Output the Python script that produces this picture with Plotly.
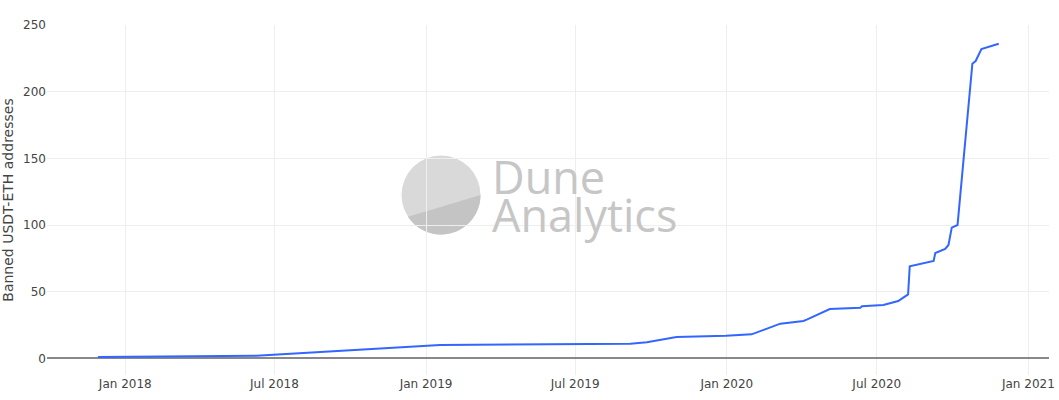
import numpy as np
import plotly.graph_objects as go

dates = ["2017-11-29", "2018-06-09", "2019-01-18", "2019-09-06", "2019-09-26",
         "2019-11-01", "2019-12-31", "2020-01-31", "2020-03-06", "2020-04-03",
         "2020-04-07", "2020-05-05", "2020-06-11", "2020-06-13", "2020-07-09",
         "2020-07-27", "2020-08-08", "2020-08-10", "2020-09-08", "2020-09-10",
         "2020-09-22", "2020-09-26", "2020-09-30", "2020-10-07", "2020-10-25",
         "2020-10-29", "2020-11-05", "2020-11-26"]
banned = [1, 2, 10, 11, 12,
          16, 17, 18, 26, 28,
          29, 37, 38, 39, 40,
          43, 48, 69, 73, 79,
          82, 85, 98, 100, 221,
          223, 232, 236]

W, H = 1059, 400
ML, MR, MT, MB = 47, 10, 25, 25
PW, PH = W - ML - MR, H - MT - MB

fig = go.Figure()
fig.add_trace(go.Scatter(x=dates, y=banned, mode="lines",
                         line=dict(color="#3366ff", width=2), showlegend=False))

def px2paper(x, y):
    return (x - ML) / PW, 1 - (y - MT) / PH

# watermark logo
cx, cy, r = 441, 195, 39.5
x0, y0 = px2paper(cx - r, cy - r)
x1, y1 = px2paper(cx + r, cy + r)
shapes = [dict(type="circle", xref="paper", yref="paper", x0=x0, x1=x1, y0=y1, y1=y0,
               fillcolor="#d9d9d9", line=dict(width=0), layer="between")]
aA = np.arctan2(216.7 - cy, 408 - cx)
aB = np.arctan2(195 - cy, 480.0 - cx)
angs = np.linspace(aB, aA, 60)
pts = [px2paper(cx + r * np.cos(a), cy + r * np.sin(a)) for a in angs]
path = "M " + " L ".join(f"{p[0]:.5f},{p[1]:.5f}" for p in pts) + " Z"
shapes.append(dict(type="path", xref="paper", yref="paper", path=path,
                   fillcolor="#c4c4c4", line=dict(width=0), layer="between"))

wm_font = dict(family="Open Sans", size=45, color="#c6c6c6")
fig.update_layout(
    width=W, height=H,
    margin=dict(l=ML, r=MR, t=MT, b=MB),
    paper_bgcolor="white", plot_bgcolor="white",
    font=dict(family="DejaVu Sans", size=12, color="#444"),
    shapes=shapes,
    xaxis=dict(type="date", range=["2017-09-28", "2021-01-26"],
               dtick="M6", tick0="2018-01-01", tickformat="%b %Y",
               showgrid=True, gridcolor="#eeeeee", zeroline=False,
               showline=False, ticks="", automargin=False),
    yaxis=dict(range=[-12.5, 250], tickvals=[0, 50, 100, 150, 200, 250],
               showgrid=True, gridcolor="#eeeeee",
               zeroline=True, zerolinecolor="#888888", zerolinewidth=1.5,
               title=dict(text="Banned USDT-ETH addresses", font=dict(size=14)),
               ticks="", automargin=False),
    annotations=[
        dict(text="Dune", xref="paper", yref="paper", height=38,
             x=px2paper(490, 0)[0], y=px2paper(0, 176)[1], xanchor="left", yanchor="middle",
             showarrow=False, font=wm_font),
        dict(text="Analytics", xref="paper", yref="paper",
             x=px2paper(490, 0)[0], y=px2paper(0, 215)[1], xanchor="left", yanchor="middle",
             showarrow=False, font=wm_font),
    ],
)

fig.write_html("out.html", config={"displayModeBar": False},
               post_script="document.body.style.margin='0';")
